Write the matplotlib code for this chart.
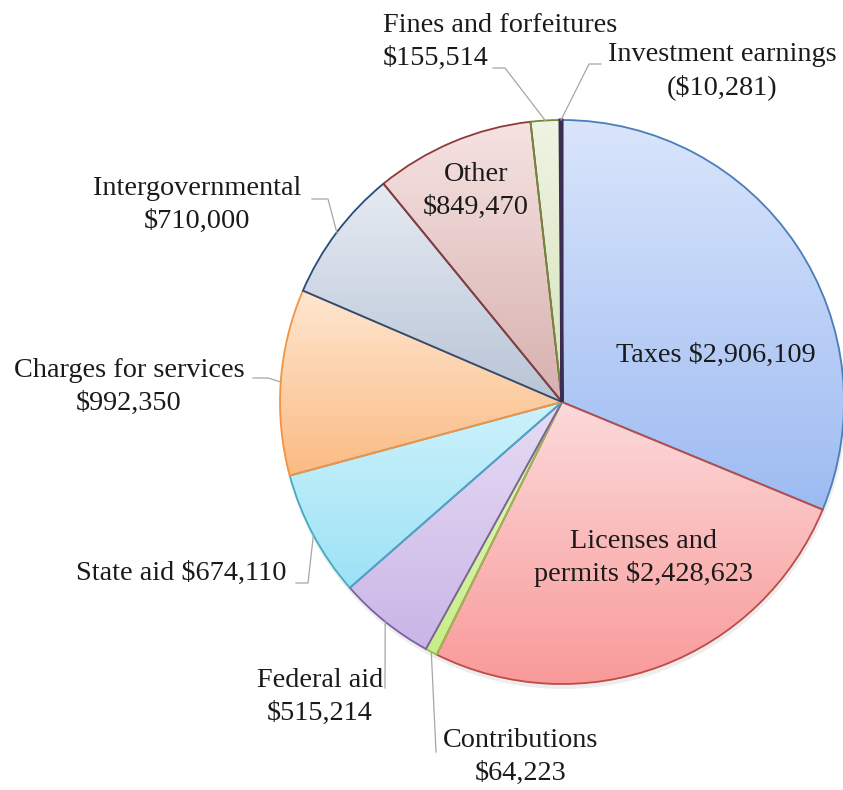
import numpy as np
import matplotlib.pyplot as plt
from matplotlib.colors import LinearSegmentedColormap
from matplotlib.patches import Circle

# revenue sources, clockwise from 12 o'clock
names = ["Taxes", "Licenses and\npermits", "Contributions", "Federal aid", "State aid",
         "Charges for services", "Intergovernmental", "Other",
         "Fines and forfeitures", "Investment earnings"]
amounts = [2906109, 2428623, 64223, 515214, 674110, 992350, 710000, 849470, 155514, -10281]
seps = [" ", " ", "\n", "\n", " ", "\n", "\n", "\n", "\n", "\n"]

# gradient top, gradient bottom, outline  (office style)
tops = ["#dae5fb", "#fcdada", "#e8fac6", "#e6dcf4", "#cdf2fb", "#fee6d0", "#e6ebf2", "#f6e3e2", "#eff4e4", "#6a5485"]
bottoms = ["#9dbbf2", "#f99999", "#c6ee86", "#cab5e7", "#9ce2f6", "#fbbb82", "#b8c4d6", "#d6b0ae", "#d5e3bb", "#4f3c68"]
edges = ["#4a7ebb", "#be4b48", "#98b954", "#7d60a0", "#46aac5", "#f69240", "#264d7c", "#8e3b39", "#71893a", "#3b2d50"]

W, H = 843, 790


def P(x, y):
    # picture pixel -> data coords (y up)
    return x, H - y


def money(v):
    s = "${:,}".format(abs(v))
    return "(" + s + ")" if v < 0 else s


cx, cy = P(562, 402)
R = 282

plt.rcParams['font.family'] = ['Liberation Serif', 'DejaVu Serif']

fig = plt.figure(figsize=(W / 100, H / 100), dpi=100)
ax = fig.add_axes([0, 0, 1, 1])

sizes = [abs(v) for v in amounts]
wedges, _ = ax.pie(sizes, startangle=90, counterclock=False, center=(cx, cy), radius=R,
                   wedgeprops=dict(linewidth=1.3))

# faint drop shadow
ax.add_patch(Circle((cx + 1, cy - 4), R + 1, facecolor="#000000", alpha=0.07, edgecolor="none", zorder=0))

for i, w in enumerate(wedges):
    v = w.get_path().vertices
    x0, x1 = v[:, 0].min(), v[:, 0].max()
    y0, y1 = v[:, 1].min(), v[:, 1].max()
    cmap = LinearSegmentedColormap.from_list("g%d" % i, [tops[i], bottoms[i]])
    grad = np.linspace(0, 1, 256).reshape(-1, 1)
    im = ax.imshow(grad, cmap=cmap, extent=(x0, x1, y0, y1), origin="upper",
                   aspect="auto", interpolation="bilinear", zorder=1)
    im.set_clip_path(w)
    w.set_facecolor("none" if i < 9 else bottoms[i])
    w.set_edgecolor(edges[i])
    w.set_zorder(3)
    if i == 9:
        w.set_linewidth(2.2)

# label placement (picture pixels): text centre, alignment, leader points from text toward slice
layout = {
    0: dict(xy=(716, 355), ha="center"),
    1: dict(xy=(643, 558), ha="center"),
    2: dict(xy=(521, 757), ha="center", lead=[(436, 752)]),
    3: dict(xy=(320, 697), ha="center", lead=[(385, 688)]),
    4: dict(xy=(181, 573), ha="center", lead=[(296, 583), (308, 583)]),
    5: dict(xy=(129, 387), ha="center", lead=[(253, 378), (268, 378)]),
    6: dict(xy=(197, 205), ha="center", lead=[(312, 199), (328, 199)]),
    7: dict(xy=(476, 191), ha="center"),
    8: dict(xy=(383, 42), ha="left", lead=[(493, 68), (505, 68)]),
    9: dict(xy=(722, 71), ha="center", lead=[(601, 64), (589, 64)]),
}

for i, w in enumerate(wedges):
    lay = layout[i]
    tx, ty = P(*lay["xy"])
    ax.text(tx, ty, names[i] + seps[i] + money(amounts[i]), ha=lay["ha"], va="center",
            multialignment=lay["ha"], fontsize=20.3, color="#1a1a1a", linespacing=1.38, zorder=5)
    if "lead" in lay:
        mid = np.deg2rad((w.theta1 + w.theta2) / 2)
        ex, ey = cx + R * np.cos(mid), cy + R * np.sin(mid)
        pts = [P(*p) for p in lay["lead"]] + [(ex, ey)]
        ax.plot([p[0] for p in pts], [p[1] for p in pts], color="#a6a6a6", lw=0.9, zorder=4)

ax.set_xlim(0, W)
ax.set_ylim(0, H)
ax.set_aspect("equal")
ax.axis("off")

fig.savefig("out.png", dpi=100, facecolor="white")
